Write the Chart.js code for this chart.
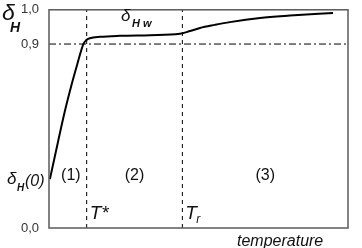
<!DOCTYPE html>
<html><head><meta charset="utf-8">
<script src="https://cdn.jsdelivr.net/npm/chart.js@4"></script>
<style>html,body{margin:0;padding:0;background:#fff}#c{display:block}</style>
</head><body>
<div style="width:362px;height:248px"><canvas id="c" width="362" height="248"></canvas></div>
<script>
// Data (x: normalised temperature 0..1, y: delta_H)
const curveX = [0.003, 0.03, 0.052, 0.077, 0.095, 0.115, 0.124, 0.137, 0.171, 0.237, 0.338, 0.438, 0.472, 0.505, 0.555, 0.605, 0.706, 0.806, 0.950];
const curveY = [0.239, 0.421, 0.565, 0.709, 0.804, 0.900, 0.911, 0.917, 0.921, 0.924, 0.926, 0.930, 0.938, 0.947, 0.956, 0.964, 0.976, 0.983, 0.991];
const tStar = 0.126;
const tR = 0.446;
const threshold = 0.9;
const yTicks = [0.0, 0.9, 1.0];
const regionLabels = ['(1)', '(2)', '(3)'];

// schematic (piecewise-linear) value axis: 0..0.9 occupies lower part, 0.9..1.0 upper part
const SPLIT = 188/223;
function toDec(v){ return v <= threshold ? v/threshold*SPLIT : SPLIT + (v-threshold)/(1-threshold)*(1-SPLIT); }
function fromDec(d){ return d <= SPLIT ? d/SPLIT*threshold : threshold + (d-SPLIT)/(1-SPLIT)*(1-threshold); }
class SchematicScale extends Chart.LinearScale {
  getPixelForValue(v){ return this.getPixelForDecimal(toDec(v)); }
  getValueForPixel(p){ return fromDec(this.getDecimalForPixel(p)); }
}
SchematicScale.id = 'schematic';
SchematicScale.defaults = Chart.LinearScale.defaults;
Chart.register(SchematicScale);

const curve = curveX.map((x,i)=>({x, y: curveY[i]}));

const decor = {
  id: 'decor',
  afterDraw(chart){
    const {ctx, chartArea: a, scales: {x, y}} = chart;
    ctx.save();
    ctx.strokeStyle = '#5a5a5a';
    ctx.lineWidth = 1.5;
    ctx.strokeRect(a.left, a.top, a.right - a.left, a.bottom - a.top);
    ctx.fillStyle = '#111';
    ctx.textBaseline = 'alphabetic';
    // delta_H axis label
    ctx.font = 'italic 23px "Liberation Sans"';
    ctx.fillText('δ', 2, 20);
    ctx.font = 'bold italic 14px "Liberation Sans"';
    ctx.fillText('H', 10, 32);
    // delta_Hw
    ctx.font = 'italic 17px "Liberation Sans"';
    ctx.fillText('δ', 121, 21);
    ctx.font = 'bold italic 11px "Liberation Sans"';
    ctx.fillText('H w', 132, 27);
    // delta_H(0)
    ctx.font = 'italic 17px "Liberation Sans"';
    ctx.fillText('δ', 7, 184);
    ctx.font = 'bold italic 10px "Liberation Sans"';
    ctx.fillText('H', 17, 191);
    ctx.font = 'italic 16px "Liberation Sans"';
    ctx.fillText('(0)', 25, 186);
    // region labels
    ctx.font = '16px "Liberation Sans"';
    ctx.textAlign = 'center';
    const mids = [(0 + tStar)/2, (tStar + tR)/2, (tR + 1)/2];
    mids.forEach((m,i)=>{
      let px = x.getPixelForValue(m);
      if (i===0) px += 3;
      ctx.fillText(regionLabels[i], px, 180);
    });
    ctx.textAlign = 'left';
    // T* and T_r
    ctx.font = 'italic 19px "Liberation Sans"';
    ctx.fillText('T*', x.getPixelForValue(tStar) + 3, 219);
    ctx.fillText('T', x.getPixelForValue(tR) + 3, 219);
    ctx.font = 'italic 12px "Liberation Sans"';
    ctx.fillText('r', x.getPixelForValue(tR) + 14, 223);
    // x axis title
    ctx.font = 'italic 16px "Liberation Sans"';
    ctx.fillText('temperature', 237, 246);
    ctx.restore();
  }
};

new Chart(document.getElementById('c'), {
  type: 'line',
  data: {
    datasets: [
      { data: curve, borderColor: '#000', borderWidth: 2, pointRadius: 0, tension: 0.35, cubicInterpolationMode: 'monotone' },
      { data: [{x:0,y:threshold},{x:1,y:threshold}], borderColor: '#000', borderWidth: 1, borderDash: [7,3,2,3], pointRadius: 0 },
      { data: [{x:tStar,y:0},{x:tStar,y:1}], borderColor: '#000', borderWidth: 1, borderDash: [4,4], pointRadius: 0 },
      { data: [{x:tR,y:0},{x:tR,y:1}], borderColor: '#000', borderWidth: 1, borderDash: [4,4], pointRadius: 0 }
    ]
  },
  options: {
    responsive: false,
    animation: false,
    events: [],
    layout: { padding: { left: 0, right: 14, top: 5, bottom: 20 } },
    plugins: { legend: { display: false }, tooltip: { enabled: false } },
    scales: {
      x: { type: 'linear', min: 0, max: 1, display: false },
      y: {
        type: 'schematic', min: 0, max: 1,
        afterBuildTicks: s => { s.ticks = yTicks.map(v => ({ value: v })); },
        afterFit: s => { s.width = 49; },
        grid: { display: false },
        border: { display: false },
        ticks: { padding: 2, color: '#333', font: { family: 'Liberation Sans', size: 13 },
          callback: v => v.toFixed(1).replace('.', ',') }
      }
    }
  },
  plugins: [decor]
});
</script>
</body></html>
